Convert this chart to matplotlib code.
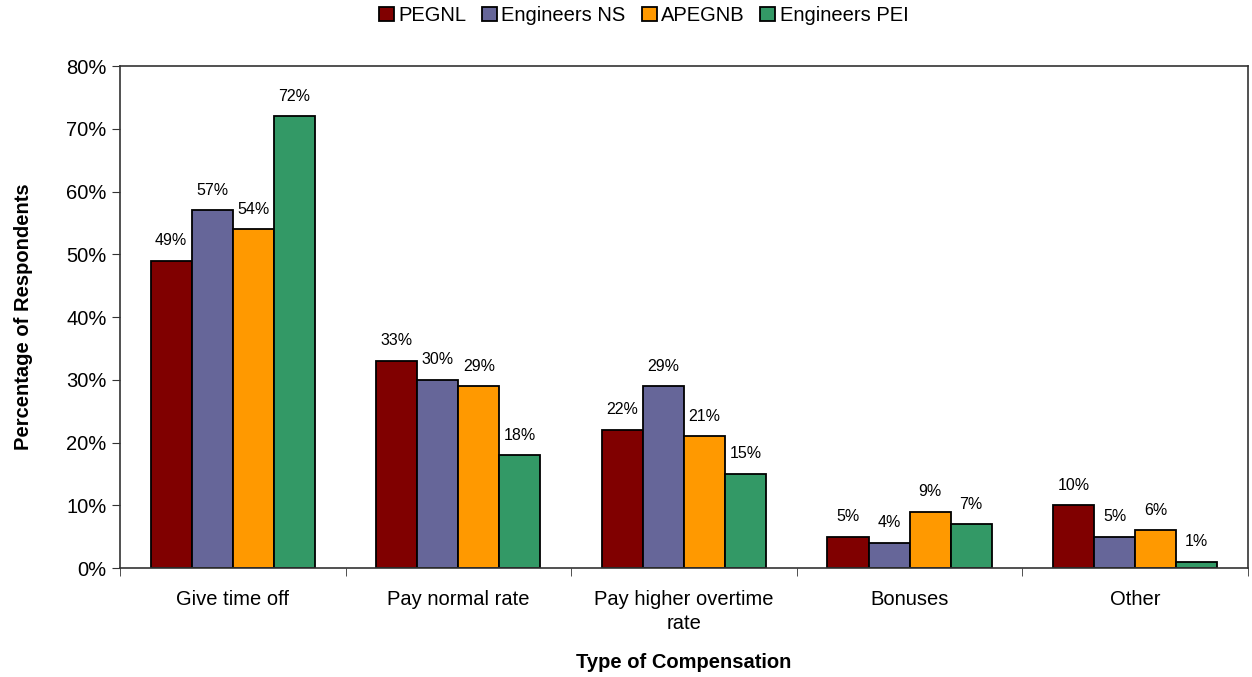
import matplotlib.pyplot as plt
import numpy as np

plt.rcParams['font.family'] = ['Liberation Sans', 'DejaVu Sans']

categories = ["Give time off", "Pay normal rate", "Pay higher overtime\nrate", "Bonuses", "Other"]
series_names = ["PEGNL", "Engineers NS", "APEGNB", "Engineers PEI"]
pegnl = [49, 33, 22, 5, 10]
engineers_ns = [57, 30, 29, 4, 5]
apegnb = [54, 29, 21, 9, 6]
engineers_pei = [72, 18, 15, 7, 1]
colors = ["#800000", "#666699", "#FF9900", "#339966"]

fig = plt.figure(figsize=(12.52, 6.77), dpi=100)
ax = fig.add_axes([0.0958, 0.161, 0.9010, 0.7415])

x = np.arange(len(categories))
width = 0.182
all_series = [pegnl, engineers_ns, apegnb, engineers_pei]
for i, (vals, name, col) in enumerate(zip(all_series, series_names, colors)):
    pos = x + (i - 1.5) * width
    bars = ax.bar(pos, vals, width, color=col, edgecolor="black", linewidth=1.3, label=name)
    for b, v in zip(bars, vals):
        ax.annotate(f"{v}%", (b.get_x() + b.get_width() / 2, v), xytext=(0, 9),
                    textcoords="offset points", ha="center", va="bottom", fontsize=11.5)

ax.set_xlim(-0.5, len(categories) - 0.5)
ax.set_ylim(0, 80)
ax.set_yticks(np.arange(0, 81, 10))
ax.set_yticklabels([f"{t}%" for t in range(0, 81, 10)], fontsize=14.5)
ax.set_xticks(x)
ax.set_xticklabels(categories, fontsize=14.5, linespacing=1.35)
ax.tick_params(axis="x", length=0, pad=16)
ax.set_xticks(np.arange(-0.5, len(categories), 1), minor=True)
ax.tick_params(axis="x", which="minor", length=6, direction="out", color="#333333")
ax.tick_params(axis="y", length=6, direction="out", color="#333333")
for s in ax.spines.values():
    s.set_linewidth(1.2)
    s.set_color("#333333")

ax.set_ylabel("Percentage of Respondents", fontsize=14.5, fontweight="bold", labelpad=24)
ax.set_xlabel("Type of Compensation", fontsize=14.5, fontweight="bold", labelpad=14)

fig.legend(loc="center", bbox_to_anchor=(0.514, 0.977), ncol=4, frameon=False, fontsize=14.5,
           handlelength=0.75, handleheight=0.75, handletextpad=0.2, columnspacing=0.8)

fig.savefig("out.png", dpi=100)
